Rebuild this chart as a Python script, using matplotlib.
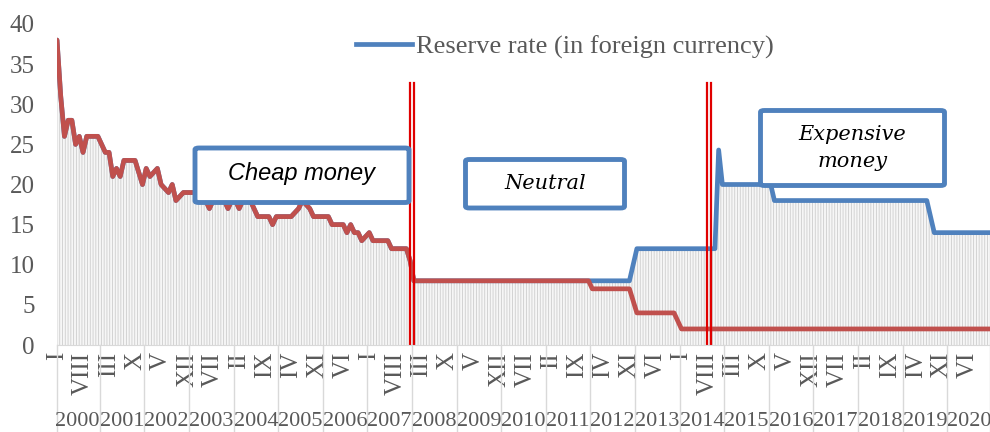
import numpy as np
import matplotlib
matplotlib.use('Agg')
import matplotlib.pyplot as plt
from matplotlib.patches import FancyBboxPatch
from matplotlib.lines import Line2D
import matplotlib.transforms as mtransforms

# monthly data, Jan 2000 .. Dec 2020
years = list(range(2000, 2021))
roman = ['I', 'II', 'III', 'IV', 'V', 'VI', 'VII', 'VIII', 'IX', 'X', 'XI', 'XII']

# reserve rate in foreign currency (blue)
blue_rate = (
    [38, 31, 26, 28, 28, 25, 26, 24, 26, 26, 26, 26]              # 2000
    + [25, 24, 24, 21, 22, 21, 23, 23, 23, 23, 21.5, 20]          # 2001
    + [22, 21, 21.5, 22, 20, 19.5, 19, 20, 18, 18.5, 19, 19]      # 2002
    + [19, 19, 18, 18, 18, 17, 18, 18, 18, 18, 17, 18]            # 2003
    + [18, 17, 18, 18, 18, 17, 16, 16, 16, 16, 15, 16]            # 2004
    + [16, 16, 16, 16, 16.5, 17, 18, 17.5, 17, 16, 16, 16]        # 2005
    + [16, 16, 15, 15, 15, 15, 14, 15, 14, 14, 13, 13.5]          # 2006
    + [14, 13, 13, 13, 13, 13, 12, 12, 12, 12, 12, 10.5]          # 2007
    + [8] * 12 + [8] * 12 + [8] * 12 + [8] * 12                   # 2008-2011
    + [8] * 11 + [10]                                              # 2012
    + [12] * 12                                                    # 2013
    + [12] * 10 + [24.3, 20]                                       # 2014
    + [20] * 12                                                    # 2015
    + [20] + [18] * 11                                             # 2016
    + [18] * 12 + [18] * 12                                        # 2017-2018
    + [18] * 7 + [16, 14, 14, 14, 14]                              # 2019
    + [14] * 12                                                    # 2020
)

# reserve rate in national currency (red)
red_rate = (
    [38, 31, 26, 28, 28, 25, 26, 24, 26, 26, 26, 26]
    + [25, 24, 24, 21, 22, 21, 23, 23, 23, 23, 21.5, 20]
    + [22, 21, 21.5, 22, 20, 19.5, 19, 20, 18, 18.5, 19, 19]
    + [19, 19, 18, 18, 18, 17, 18, 18, 18, 18, 17, 18]
    + [18, 17, 18, 18, 18, 17, 16, 16, 16, 16, 15, 16]
    + [16, 16, 16, 16, 16.5, 17, 18, 17.5, 17, 16, 16, 16]
    + [16, 16, 15, 15, 15, 15, 14, 15, 14, 14, 13, 13.5]
    + [14, 13, 13, 13, 13, 13, 12, 12, 12, 12, 12, 10.5]
    + [8] * 12 + [8] * 12 + [8] * 12 + [8] * 12
    + [7] * 11 + [5.5]
    + [4] * 11 + [3]
    + [2] * 12 + [2] * 12 + [2] * 12 + [2] * 12 + [2] * 12 + [2] * 12 + [2] * 12
)

regime_breaks = [95.45, 175.4]  # double red lines
regime_labels = ['Cheap money', 'Neutral', 'Expensive\nmoney']

W, H = 990, 432
grey = '#595959'
serif = 'Liberation Serif'

x = np.arange(len(blue_rate))

fig = plt.figure(figsize=(W / 100, H / 100), dpi=100)
ax = fig.add_axes([57 / W, 1 - 345 / H, 933 / W, 321 / H])

plt.rcParams['hatch.linewidth'] = 0.6
ax.fill_between(x, 0, blue_rate, facecolor='#f6f6f6', hatch='||||||',
                edgecolor='#cdcdcd', linewidth=0)
ax.plot(x, blue_rate, color='#4f81bd', lw=3.4, solid_joinstyle='round',
        solid_capstyle='round')
ax.plot(x, red_rate, color='#c0504d', lw=3.4, solid_joinstyle='round',
        solid_capstyle='round')

ax.set_xlim(0, len(x) - 1)
ax.set_ylim(0, 40)
ax.set_yticks(range(0, 41, 5))
ax.set_xticks(range(0, len(x), 7))
ax.set_xticklabels([roman[i % 12] for i in range(0, len(x), 7)], rotation=90,
                   va='top', ha='center')
ax.tick_params(axis='both', length=0, labelsize=18, labelcolor=grey)
ax.tick_params(axis='x', pad=5)
ax.tick_params(axis='y', pad=16)
for lab in ax.get_xticklabels() + ax.get_yticklabels():
    lab.set_family(serif)
for s in ['left', 'top', 'right']:
    ax.spines[s].set_visible(False)
ax.spines['bottom'].set_color('#d9d9d9')

# year level of the category axis
trans = mtransforms.blended_transform_factory(ax.transData, ax.transAxes)
seps = [0] + [12 * k - 0.5 for k in range(1, len(years))] + [len(x) - 1]
for s in seps:
    ax.plot([s, s], [0, -0.28], transform=trans, color='#d9d9d9', lw=1,
            clip_on=False)
for k, yr in enumerate(years):
    ax.text(12 * k + 5.5, -0.237, str(yr), transform=trans, ha='center',
            va='center', fontsize=16, color=grey, family=serif)

# double red lines
for b in regime_breaks:
    for off in (-0.5, 0.5):
        ax.plot([b + off, b + off], [0, 32.7], color='#e00000', lw=1.6)

# legend
handle = Line2D([], [], color='#4f81bd', lw=3.4)
fig.legend([handle], ['Reserve rate (in foreign currency)'], loc='center left',
           bbox_to_anchor=(343 / W, 1 - 47 / H), frameon=False, borderpad=0,
           handlelength=2.1, handletextpad=0.15,
           prop={'family': serif, 'size': 19}, labelcolor=grey)

# regime boxes (pixel rectangles)
boxes = [(195, 148, 409, 202.5), (465.5, 159.5, 624.5, 208), (760.5, 110.5, 944.5, 185.5)]
for (x0, y0, x1, y1), txt in zip(boxes, regime_labels):
    r = FancyBboxPatch((x0 / W, 1 - y1 / H), (x1 - x0) / W, (y1 - y0) / H,
                       boxstyle='round,pad=0,rounding_size=0.004',
                       transform=fig.transFigure, facecolor='white',
                       edgecolor='#4f81bd', lw=3.5, zorder=5)
    fig.add_artist(r)
    cx, cy = (x0 + x1) / 2 / W, 1 - (y0 + y1) / 2 / H
    if txt == 'Cheap money':
        fig.text(cx, cy + 0.005, txt, ha='center', va='center', fontsize=17,
                 style='italic', family='Liberation Sans', zorder=6)
    else:
        fig.text(cx, cy, txt, ha='center', va='center', fontsize=15,
                 style='italic', family='DejaVu Serif', zorder=6,
                 linespacing=1.55)

fig.savefig('out.png', dpi=100)
